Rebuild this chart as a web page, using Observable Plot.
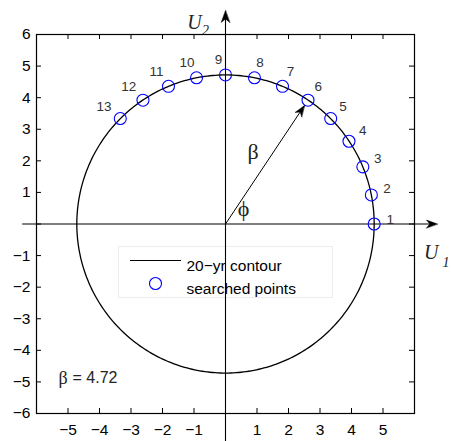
<!DOCTYPE html>
<html><head><meta charset="utf-8">
<script src="https://cdn.jsdelivr.net/npm/d3@7"></script>
<script src="https://cdn.jsdelivr.net/npm/@observablehq/plot@0.6"></script>
<style>html,body{margin:0;padding:0;background:#fff} svg{display:block}</style>
</head><body><div id="chart"></div>
<script>
// ---- data ----
const beta = 4.72;
const pointLabels = ["1","2","3","4","5","6","7","8","9","10","11","12","13"];
const pointU1 = [4.72, 4.63, 4.36, 3.92, 3.34, 2.62, 1.81, 0.92, 0.00, -0.92, -1.81, -2.62, -3.34];
const pointU2 = [0.00, 0.92, 1.81, 2.62, 3.34, 3.92, 4.36, 4.63, 4.72, 4.63, 4.36, 3.92, 3.34];
const xTickValues = [-5, -4, -3, -2, -1, 0, 1, 2, 3, 4, 5];
const yTickValues = [-5, -4, -3, -2, -1, 0, 1, 2, 3, 4, 5];
const xTickLabels = [-5, -4, -3, -2, -1, 1, 2, 3, 4, 5];
const yTickLabels = [-6, -5, -4, -3, -2, -1, 1, 2, 3, 4, 5, 6];
const legendLabels = ["20\u2212yr contour", "searched points"];
const betaPointIndex = 5; // point "6"
const axisExtent = {u1Min: -6.44, u1Max: 6.73, u2Min: -7.2, u2Max: 6.76};

// ---- layout ----
const W = 453, H = 441;
const mL = 36, mR = 39, mT = 34, mB = 28;
const frameW = W - mL - mR, frameH = H - mT - mB;
const pxPerUnit = frameW / 12;
const sans = "Liberation Sans, Arial, Helvetica, sans-serif";
const serif = "Liberation Serif, Times New Roman, serif";
const fmt = d => d < 0 ? "\u2212" + Math.abs(d) : String(d);

const points = pointLabels.map((label, i) => {
  const u1 = pointU1[i], u2 = pointU2[i];
  const th = Math.atan2(u2, u1);
  const dxp = (u1 > 0.01 ? 3 : -7) + 13 * Math.cos(th);
  const dyp = 4 + 11 * Math.sin(th);
  return {label, u1, u2, lx: u1 + dxp / pxPerUnit, ly: u2 + dyp / pxPerUnit};
});
const contour = d3.range(0, 361, 1).map(a => ({
  x: beta * Math.cos(a * Math.PI / 180),
  y: beta * Math.sin(a * Math.PI / 180)
}));

const bp = points[betaPointIndex];
const bAng = Math.atan2(bp.u2, bp.u1);
const tipR = beta - 6.5 / pxPerUnit;
const betaTip = {x: tipR * Math.cos(bAng), y: tipR * Math.sin(bAng)};

const headShape = {
  draw(ctx, l) {
    const w = l * 0.36;
    ctx.moveTo(0, -l);
    ctx.lineTo(-w, 0);
    ctx.lineTo(0, -l * 0.3);
    ctx.lineTo(w, 0);
    ctx.closePath();
  }
};
const lineSymbol = {draw(ctx) { ctx.moveTo(-25.5, 0); ctx.lineTo(25.5, 0); }};

const chart = Plot.plot({
  width: W, height: H,
  marginLeft: mL, marginRight: mR, marginTop: mT, marginBottom: mB,
  x: {domain: [-6, 6], axis: null},
  y: {domain: [-6, 6], axis: null},
  style: {fontFamily: sans, background: "white"},
  marks: [
    // inward ticks on all four sides
    Plot.tickX(xTickValues, {x: d => d, insetTop: frameH - 5, stroke: "black"}),
    Plot.tickX(xTickValues, {x: d => d, insetBottom: frameH - 5, stroke: "black"}),
    Plot.tickY(yTickValues, {y: d => d, insetRight: frameW - 5, stroke: "black"}),
    Plot.tickY(yTickValues, {y: d => d, insetLeft: frameW - 5, stroke: "black"}),
    // tick labels
    Plot.text(yTickLabels, {x: -6, y: d => d, text: fmt, dx: -6, textAnchor: "end", fontSize: 15.5, fill: "black"}),
    Plot.text(xTickLabels, {x: d => d, y: -6, text: fmt, dy: 17, fontSize: 15.5, fill: "black"}),
    // contour
    Plot.line(contour, {x: "x", y: "y", stroke: "black", strokeWidth: 1.3}),
    // legend
    Plot.frame({insetLeft: 82, insetTop: 212, insetRight: frameW - 296, insetBottom: frameH - 263, fill: "white", stroke: "#ececec"}),
    Plot.dot([0], {frameAnchor: "top-left", dx: 119, dy: 226, symbol: lineSymbol, stroke: "black", strokeWidth: 1.2}),
    Plot.dot([0], {frameAnchor: "top-left", dx: 119, dy: 249, r: 6, stroke: "blue", fill: "none", strokeWidth: 1.1}),
    Plot.text([legendLabels[0]], {frameAnchor: "top-left", dx: 150, dy: 225, textAnchor: "start", fontSize: 15.5, fill: "black"}),
    Plot.text([legendLabels[1]], {frameAnchor: "top-left", dx: 150, dy: 248, textAnchor: "start", fontSize: 15.5, fill: "black"}),
    // coordinate axes with arrows
    Plot.ruleY([0], {x1: axisExtent.u1Min, x2: axisExtent.u1Max - 0.2, stroke: "black", strokeWidth: 1.1}),
    Plot.ruleX([0], {y1: axisExtent.u2Min, y2: axisExtent.u2Max - 0.2, stroke: "black", strokeWidth: 1.1}),
    Plot.vector([{x: axisExtent.u1Max, y: 0, r: 90}], {x: "x", y: "y", rotate: "r", length: 11, anchor: "end", shape: headShape, fill: "black", stroke: "black", strokeWidth: 0.5}),
    Plot.vector([{x: 0, y: axisExtent.u2Max, r: 0}], {x: "x", y: "y", rotate: "r", length: 12, anchor: "end", shape: headShape, fill: "black", stroke: "black", strokeWidth: 0.5}),
    // beta arrow
    Plot.link([betaTip], {x1: 0, y1: 0, x2: "x", y2: "y", stroke: "black", strokeWidth: 1}),
    Plot.vector([betaTip], {x: "x", y: "y", rotate: 90 - bAng * 180 / Math.PI, length: 11, anchor: "end", shape: headShape, fill: "black", stroke: "black", strokeWidth: 0.5}),
    // searched points and labels
    Plot.dot(points, {x: "u1", y: "u2", r: 6, stroke: "blue", fill: "none", strokeWidth: 1.1}),
    Plot.text(points, {x: "lx", y: "ly", text: "label", fontSize: 13.5, fill: "#333"}),
    // annotations
    Plot.text([betaTip], {x: d => d.x / 2, y: d => d.y / 2, text: () => "\u03b2", dx: -12, dy: -13, fontSize: 22, fontFamily: serif, fill: "#222"}),
    Plot.text([0], {x: 0, y: 0, text: () => "\u03d5", dx: 18, dy: -15, fontSize: 22, fontFamily: serif, fill: "#222"}),
    Plot.text(["\u03b2"], {frameAnchor: "bottom-left", dx: 22, dy: -30, textAnchor: "start", fontSize: 18, fontFamily: serif, fill: "#222"}),
    Plot.text([beta], {frameAnchor: "bottom-left", text: d => "= " + d, dx: 36, dy: -31, textAnchor: "start", fontSize: 16, fill: "#222"}),
    // axis titles
    Plot.text(["U"], {x: 0, frameAnchor: "top", dx: -31, dy: -20, fontSize: 20, fontStyle: "italic", fontFamily: serif, fill: "#222"}),
    Plot.text(["2"], {x: 0, frameAnchor: "top", dx: -20, dy: -9, fontSize: 14, fontStyle: "italic", fontFamily: serif, fill: "#222"}),
    Plot.text(["U"], {y: 0, frameAnchor: "right", dx: 24, dy: 29, fontSize: 20, fontStyle: "italic", fontFamily: serif, fill: "#222"}),
    Plot.text(["1"], {y: 0, frameAnchor: "right", dx: 35, dy: 39, fontSize: 14, fontStyle: "italic", fontFamily: serif, fill: "#222"}),
    Plot.frame({stroke: "black", strokeWidth: 1.2})
  ]
});
document.getElementById("chart").appendChild(chart);
</script>
</body></html>
